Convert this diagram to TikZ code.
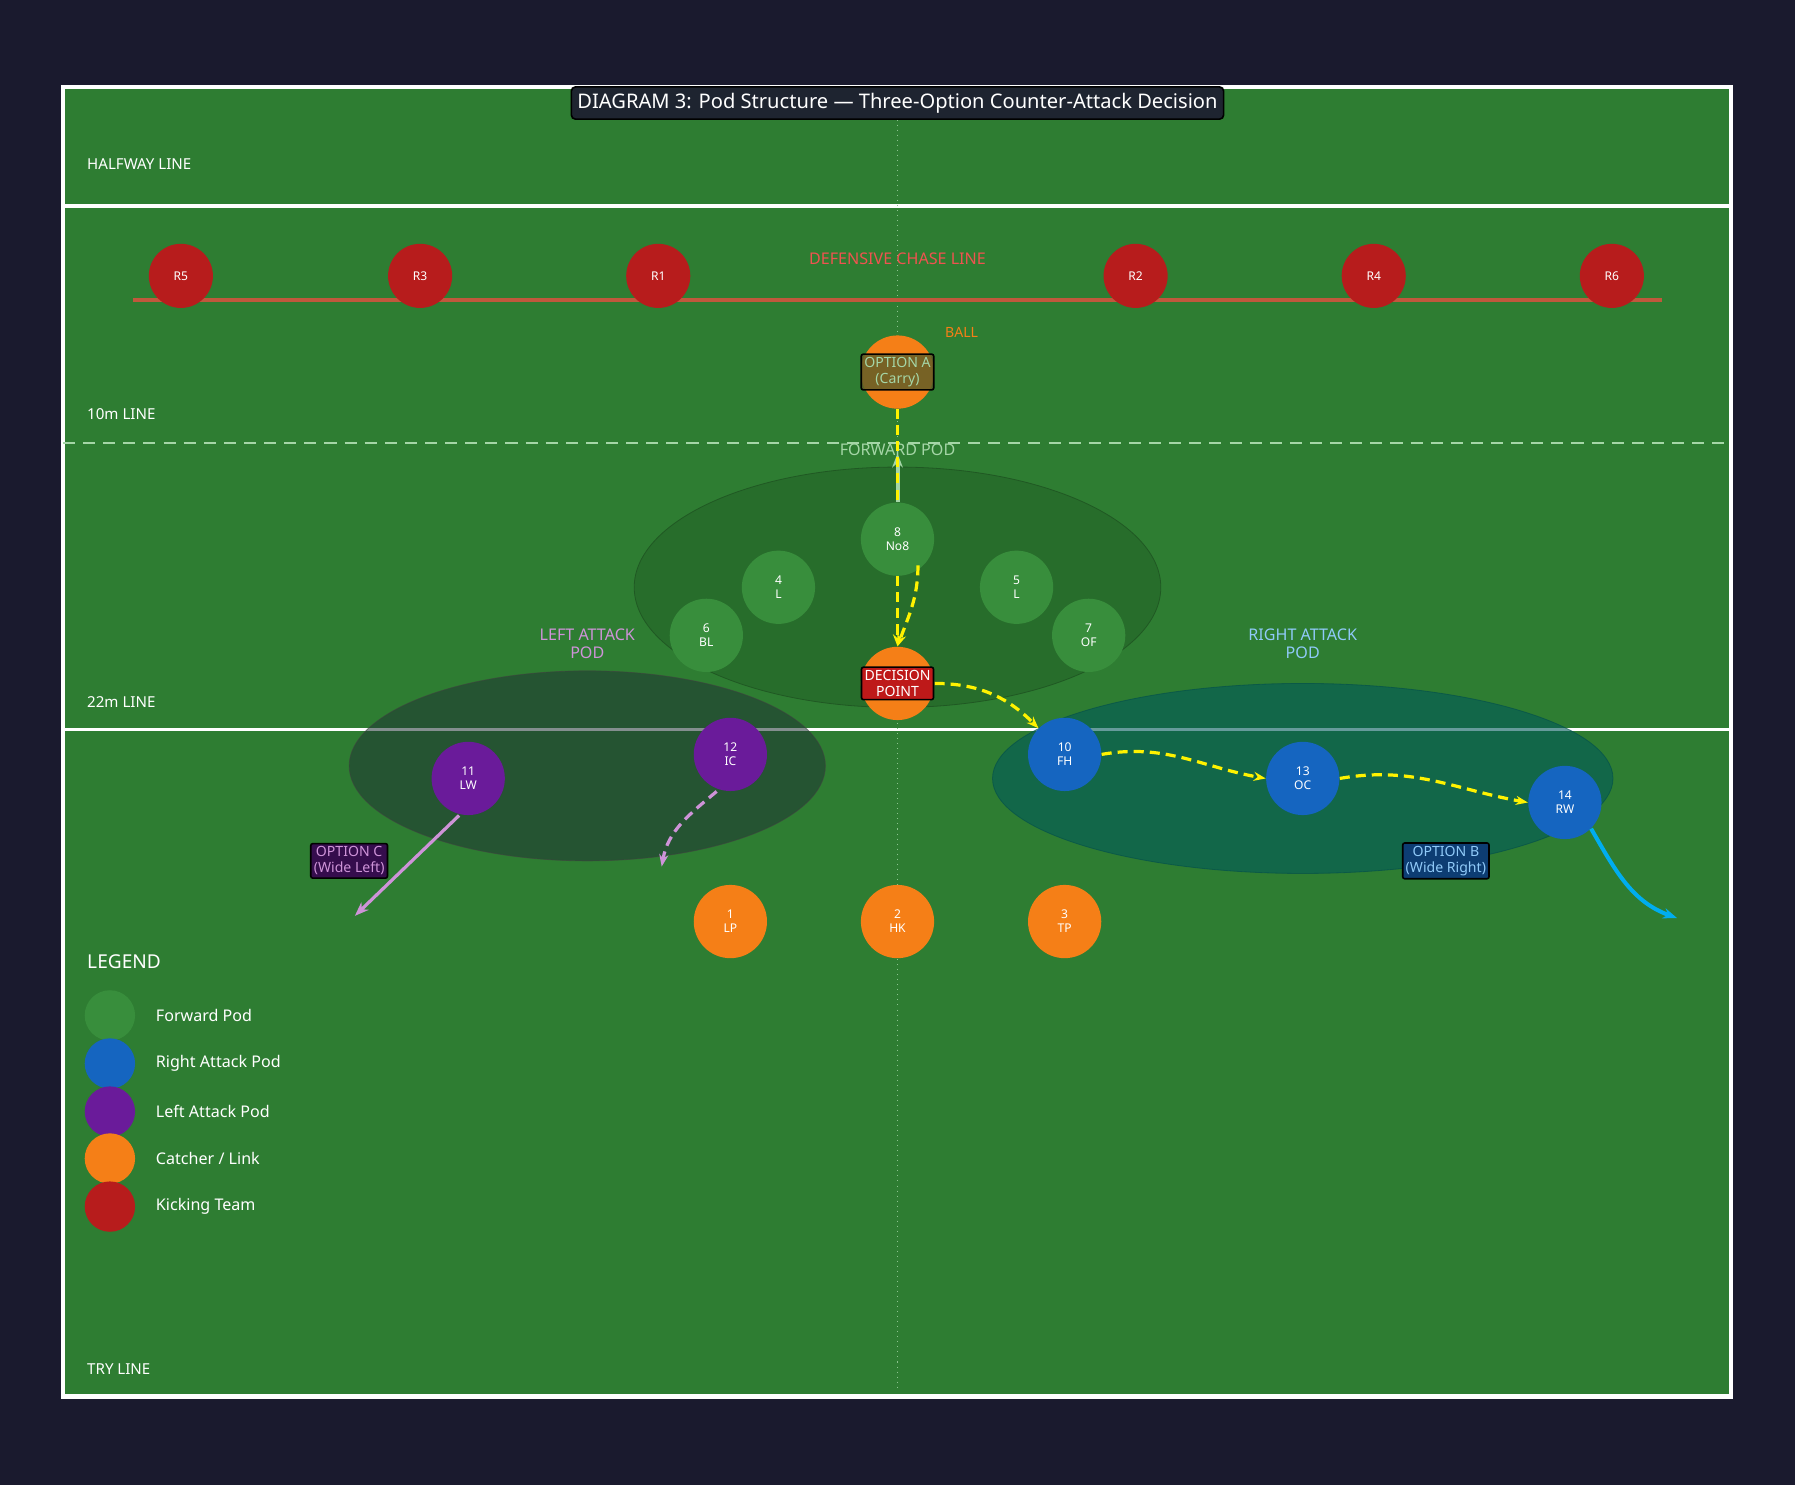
\documentclass[tikz,border=0pt]{standalone}
\usepackage{fontspec}
\setmainfont{Noto Sans}
\usetikzlibrary{arrows.meta,positioning}
\definecolor{bgdark}{HTML}{1A1A2E}
\definecolor{pitch}{HTML}{2E7D32}
\definecolor{fwd}{HTML}{388E3C}
\definecolor{fwdpod}{HTML}{276C2B}
\definecolor{rightc}{HTML}{1565C0}
\definecolor{leftc}{HTML}{6A1B9A}
\definecolor{catch}{HTML}{F57F17}
\definecolor{kick}{HTML}{B71C1C}
\definecolor{chase}{HTML}{C0583C}
\definecolor{chasetxt}{HTML}{EF5350}
\definecolor{lgreen}{HTML}{A5D6A7}
\definecolor{lpurple}{HTML}{CE93D8}
\definecolor{lblue}{HTML}{90CAF9}
\definecolor{boxdark}{HTML}{1E2430}

\begin{document}
\begin{tikzpicture}[x=0.02cm,y=-0.02cm]
      \tikzset{player/.style={circle, minimum size=1.28cm, inner sep=0pt, align=center, text=white, font={\fontsize{6}{7}\selectfont\bfseries}}}
      \tikzset{fwdp/.style={player, fill=fwd}}
      \tikzset{rightp/.style={player, fill=rightc}}
      \tikzset{leftp/.style={player, fill=leftc}}
      \tikzset{catchp/.style={player, fill=catch}}
      \tikzset{kickp/.style={player, fill=kick, minimum size=1.12cm}}
      \tikzset{linelbl/.style={anchor=west, text=white, font={\fontsize{7.5}{9}\selectfont}}}
      \tikzset{podlbl/.style={align=center, font={\fontsize{8}{9}\selectfont\bfseries}}}
      \tikzset{optbox/.style={draw=black, line width=0.8pt, rounded corners=1pt, align=center, inner sep=1.5pt, font={\fontsize{7}{8}\selectfont\bfseries}}}
      \tikzset{run/.style={yellow, line width=1.6pt, dash pattern=on 5pt off 3pt, -{Stealth[length=6pt]}}}
      \tikzset{legdot/.style={circle, minimum size=0.88cm, inner sep=0pt}}
      \tikzset{legtxt/.style={anchor=west, text=white, font={\fontsize{8}{9}\selectfont}}}

      % background and pitch
      \fill[bgdark] (0,0) rectangle (1568,1297);
      \useasboundingbox (0,0) rectangle (1568,1297);
      \draw[white, line width=2.4pt, fill=pitch] (55,76) rectangle (1512,1220);
      \draw[white, line width=2pt] (55,180) -- (1512,180);
      \draw[white, line width=1.6pt] (55,637) -- (1512,637);
      \draw[lgreen, line width=1.2pt, dash pattern=on 6pt off 4pt] (55,387) -- (1512,387);
      \draw[lgreen!80!pitch, line width=0.5pt, dotted] (784,100) -- (784,1215);
      \draw[chase, line width=2pt] (116,262) -- (1452,262);

      \node[linelbl, font={\fontsize{7.5}{9}\selectfont\bfseries}] (halfway) at (70,143) {HALFWAY LINE};
      \node[linelbl] (tenm) at (70,362) {10m LINE};
      \node[linelbl, font={\fontsize{7.5}{9}\selectfont\bfseries}] (twentytwo) at (70,613) {22m LINE};
      \node[linelbl, font={\fontsize{7.5}{9}\selectfont\bfseries}] (tryline) at (70,1196) {TRY LINE};

      % pods
      \fill[fwdpod, draw=fwdpod!80!black, opacity=0.9] (784,513) ellipse (230 and 105);
      \fill[gray!60!teal!40!black, opacity=0.55, draw=gray!50!black] (513,669) ellipse (208 and 83);
      \fill[teal!70!black, opacity=0.6, draw=teal!60!black] (1138,680) ellipse (271 and 83);

      % kicking team
      \foreach \nm/\xx in {R5/158, R3/367, R1/575, R2/992, R4/1200, R6/1408}
        \node[kickp] (\nm) at (\xx,241) {\nm};
      \node[text=chasetxt, font={\fontsize{8}{9}\selectfont\bfseries}] (chaselbl) at (784,226) {DEFENSIVE CHASE LINE};
      \node[text=catch, font={\fontsize{7}{8}\selectfont\bfseries}] (balllbl) at (840,290) {BALL};

      % forward pod
      \node[catchp] (ball) at (784,325) {};
      \node[text=lgreen, podlbl] (fwdlbl) at (784,393) {FORWARD POD};
      \node[fwdp] (no8) at (784,471) {8\\No8};
      \node[fwdp] (lock4) at (680,513) {4\\L};
      \node[fwdp] (lock5) at (888,513) {5\\L};
      \node[fwdp] (bl) at (617,555) {6\\BL};
      \node[fwdp] (of) at (951,555) {7\\OF};
      \node[catchp] (decision) at (784,597) {};

      % attack pods
      \node[text=lpurple, podlbl] (leftlbl) at (513,562) {LEFT ATTACK\\POD};
      \node[text=lblue, podlbl] (rightlbl) at (1138,562) {RIGHT ATTACK\\POD};
      \node[leftp] (lw) at (409,680) {11\\LW};
      \node[leftp] (ic) at (638,659) {12\\IC};
      \node[rightp] (fh) at (930,659) {10\\FH};
      \node[rightp] (oc) at (1138,680) {13\\OC};
      \node[rightp] (rw) at (1367,701) {14\\RW};
      \node[catchp] (lp) at (638,805) {1\\LP};
      \node[catchp] (hk) at (784,805) {2\\HK};
      \node[catchp] (tp) at (930,805) {3\\TP};

      \coordinate (endc) at (310,800);
      \coordinate (endic) at (578,757);
      \coordinate (endb) at (1465,802);

      % runs
      \draw[lgreen, line width=2pt, -{Stealth[length=7pt]}] (no8.north) -- (784,396);
      \draw[yellow, line width=1.6pt, dash pattern=on 5pt off 3pt] (ball.south) -- (784,440);
      \draw[run] (no8.south) -- (decision.north);
      \draw[run] (no8.south east) ++(-5,0) to[out=-90,in=70] (decision.north);
      \draw[run] (decision.east) to[out=0,in=135] (fh.north west);
      \draw[run] (fh.east) to[out=10,in=170] (oc.west);
      \draw[run] (oc.east) to[out=10,in=170] (rw.west);
      \draw[cyan, line width=2pt, -{Stealth[length=7pt]}] (rw.south east) to[out=-60,in=160] (endb);
      \draw[lpurple, line width=1.6pt, -{Stealth[length=7pt]}] (lw.south) ++(-8,0) -- (endc);
      \draw[lpurple, line width=1.6pt, dash pattern=on 5pt off 3pt, -{Stealth[length=6pt]}] (ic.south) ++(-12,0) to[out=-140,in=80] (endic);

      % option labels
      \node[optbox, fill=olive!60!black, fill opacity=0.85, text opacity=1, text=lgreen] (opta) at (784,325) {OPTION A\\(Carry)};
      \node[optbox, fill=kick!90!red, text=white] (optdp) at (784,597) {DECISION\\POINT};
      \node[optbox, fill=leftc!50!black, text=lpurple] (optc) at (305,752) {OPTION C\\(Wide Left)};
      \node[optbox, fill=rightc!60!black, text=lblue] (optb) at (1263,752) {OPTION B\\(Wide Right)};

      % title
      \node[draw=black, fill=boxdark, rounded corners=2pt, line width=0.8pt, text=white, inner sep=3pt, font={\fontsize{10}{12}\selectfont\bfseries}] (title) at (784,90) {DIAGRAM 3: Pod Structure — Three-Option Counter-Attack Decision};

      % legend
      \node[anchor=west, text=white, font={\fontsize{9.5}{11}\selectfont\bfseries}] (legend) at (70,840) {LEGEND};
      \foreach \cl/\tx/\yy in {fwd/{Forward Pod}/887, rightc/{Right Attack Pod}/929, leftc/{Left Attack Pod}/971, catch/{Catcher {/} Link}/1012, kick/{Kicking Team}/1054} {
        \node[legdot, fill=\cl] (dot\yy) at (96,\yy) {};
        \node[legtxt] (txt\yy) at (130,\yy) {\tx};
      }
\end{tikzpicture}
\end{document}
